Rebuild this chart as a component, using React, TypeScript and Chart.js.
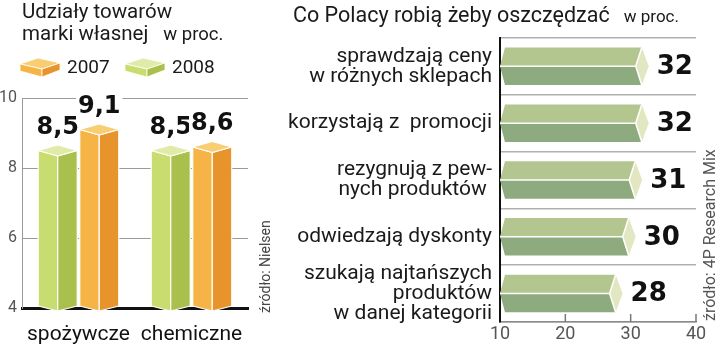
import React, { useEffect, useRef } from "react";
import { Chart, registerables } from "chart.js";
Chart.register(...registerables);

// ---------- data: left chart ----------
const leftTitleLines = ["Udziały towarów", "marki własnej"];
const leftUnit = "w proc.";
const leftCategories = ["spożywcze", "chemiczne"];
const seriesNames = ["2007", "2008"];
const values2007 = [9.1, 8.6];
const values2008 = [8.5, 8.5];
const leftTicks = [4, 6, 8, 10];
const leftSource = "źródło: Nielsen";

// ---------- data: right chart ----------
const rightTitle = "Co Polacy robią żeby oszczędzać";
const rightUnit = "w proc.";
const rightCategories: (string | string[])[] = [
  ["sprawdzają ceny", "w różnych sklepach"],
  "korzystają z  promocji",
  ["rezygnują z pew-", "nych produktów "],
  "odwiedzają dyskonty",
  ["szukają najtańszych", "produktów", "w danej kategorii"],
];
const rightValues = [32, 32, 31, 30, 28];
const rightTicks = [10, 20, 30, 40];
const rightSource = "źródło: 4P Research Mix";

// ---------- styles ----------
const ORANGE = { top: "#f9cd72", front: "#f5b445", side: "#e8942c" };
const GREEN = { top: "#dfeba6", front: "#c9dc70", side: "#a9c14c" };
const HBAR = { top: "#b4c68f", bottom: "#8dab7e", tip: "#e2e7c2" };
const FONT = "Roboto";
const BOLD = "'DejaVu Sans'";

const fmt = (v: number) => v.toFixed(1).replace(".", ",");

function LegendIcon({ c }: { c: { top: string; front: string; side: string } }) {
  return (
    <svg width={40} height={19} viewBox="0 0 40 19" style={{ display: "block" }}>
      <polygon points="0,6 18,0 40,5 22,11" fill={c.top} stroke="#fff" strokeWidth={0.8} />
      <polygon points="0,6 22,11 22,19 0,13" fill={c.front} stroke="#fff" strokeWidth={0.8} />
      <polygon points="22,11 40,5 40,12 22,19" fill={c.side} stroke="#fff" strokeWidth={0.8} />
    </svg>
  );
}

function LeftChart() {
  const ref = useRef<HTMLCanvasElement | null>(null);
  useEffect(() => {
    const colorsByDataset = [GREEN, ORANGE];
    const boxes3d = {
      id: "boxes3d",
      afterDatasetsDraw(chart: any) {
        const ctx = chart.ctx;
        const floor = chart.chartArea.bottom;
        chart.data.datasets.forEach((ds: any, i: number) => {
          const c = colorsByDataset[i];
          const meta = chart.getDatasetMeta(i);
          meta.data.forEach((el: any, j: number) => {
            const p = el.getProps(["x", "y", "base", "width"], true);
            const x = p.x, y = p.y, width = p.width;
            const base = Math.min(p.base, floor);
            const xl = x - width / 2;
            const xr = x + width / 2;
            const d = 5.5;
            ctx.save();
            ctx.strokeStyle = "#ffffff";
            ctx.lineWidth = 1.2;
            ctx.lineJoin = "round";
            const poly = (pts: number[][], fill: string) => {
              ctx.beginPath();
              pts.forEach((q, k) => (k ? ctx.lineTo(q[0], q[1]) : ctx.moveTo(q[0], q[1])));
              ctx.closePath();
              ctx.fillStyle = fill;
              ctx.fill();
              ctx.stroke();
            };
            poly([[xl, y], [x, y + d], [x, base + 3], [xl, base - 2]], c.front);
            poly([[x, y + d], [xr, y], [xr, base - 2], [x, base + 3]], c.side);
            poly([[xl, y], [x, y - d], [xr, y], [x, y + d]], c.top);
            const txt = fmt(ds.data[j]);
            ctx.font = `bold 24px ${BOLD}`;
            const w = ctx.measureText(txt).width;
            ctx.fillStyle = "#ffffff";
            ctx.fillRect(x - w / 2 - 2, y - 37, w + 4, 22);
            ctx.fillStyle = "#111111";
            ctx.textAlign = "center";
            ctx.textBaseline = "alphabetic";
            ctx.fillText(txt, x, y - 17);
            ctx.restore();
          });
        });
      },
    };
    const chart = new Chart(ref.current as HTMLCanvasElement, {
      type: "bar",
      data: {
        labels: leftCategories,
        datasets: [
          { label: seriesNames[1], data: values2008, backgroundColor: "rgba(0,0,0,0)" },
          { label: seriesNames[0], data: values2007, backgroundColor: "rgba(0,0,0,0)" },
        ],
      },
      options: {
        animation: false,
        responsive: false,
        maintainAspectRatio: false,
        layout: { padding: { top: 98, left: 0, right: 22, bottom: 0 } },
        datasets: { bar: { categoryPercentage: 0.735, barPercentage: 0.94 } } as any,
        plugins: { legend: { display: false }, tooltip: { enabled: false }, title: { display: false } },
        scales: {
          x: {
            afterFit: (s: any) => { s.height = 48; },
            grid: { display: false },
            border: { display: true, color: "#111", width: 3 },
            ticks: { font: { family: FONT, size: 21 }, color: "#111", padding: 6, autoSkip: false },
          },
          y: {
            min: leftTicks[0],
            max: leftTicks[leftTicks.length - 1],
            afterFit: (s: any) => { s.width = 22; },
            afterBuildTicks: (s: any) => { s.ticks = leftTicks.map((v) => ({ value: v })); },
            ticks: { font: { family: FONT, size: 16 }, color: "#555", padding: 5 },
            grid: {
              drawTicks: false,
              color: (c: any) => (c.tick && c.tick.value === leftTicks[0] ? "rgba(0,0,0,0)" : "#9a9a9a"),
              lineWidth: 1,
            },
            border: { display: true, color: "#9a9a9a", width: 1 },
          },
        },
      },
      plugins: [boxes3d],
    });
    return () => chart.destroy();
  }, []);
  return (
    <canvas
      ref={ref}
      width={270}
      height={356}
      style={{ position: "absolute", left: 0, top: 0, width: 270, height: 356 }}
    />
  );
}

function RightChart() {
  const ref = useRef<HTMLCanvasElement | null>(null);
  useEffect(() => {
    const arrows = {
      id: "arrows",
      afterDatasetsDraw(chart: any) {
        const ctx = chart.ctx;
        const left = chart.chartArea.left;
        const meta = chart.getDatasetMeta(0);
        meta.data.forEach((el: any, j: number) => {
          const p = el.getProps(["x", "y", "base", "height"], true);
          const x = p.x, y = p.y, height = p.height;
          const base = Math.max(p.base, left);
          const yt = y - height / 2;
          const yb = y + height / 2;
          ctx.save();
          ctx.lineJoin = "round";
          const poly = (pts: number[][], fill: string) => {
            ctx.beginPath();
            pts.forEach((q, k) => (k ? ctx.lineTo(q[0], q[1]) : ctx.moveTo(q[0], q[1])));
            ctx.closePath();
            ctx.fillStyle = fill;
            ctx.fill();
          };
          poly([[base + 5, yt], [x - 2, yt], [x - 8, y], [base, y]], HBAR.top);
          poly([[base, y], [x - 8, y], [x - 2, yb], [base + 5, yb]], HBAR.bottom);
          poly([[x - 2, yt], [x + 5, y], [x - 2, yb], [x - 8, y]], HBAR.tip);
          ctx.strokeStyle = "#ffffff";
          ctx.lineWidth = 1.5;
          ctx.beginPath();
          ctx.moveTo(base, y);
          ctx.lineTo(x - 8, y);
          ctx.moveTo(x - 2, yt);
          ctx.lineTo(x - 8, y);
          ctx.lineTo(x - 2, yb);
          ctx.stroke();
          ctx.font = `bold 26px ${BOLD}`;
          ctx.fillStyle = "#111111";
          ctx.textAlign = "left";
          ctx.textBaseline = "middle";
          ctx.fillText(String(rightValues[j]), x + 13, y + 1);
          ctx.restore();
        });
      },
      afterDraw(chart: any) {
        const ctx = chart.ctx;
        const xs = chart.scales.x;
        const bottom = chart.chartArea.bottom;
        ctx.save();
        ctx.strokeStyle = "#777";
        ctx.lineWidth = 1.5;
        xs.ticks.forEach((t: any) => {
          if (t.value === rightTicks[0]) return;
          const px = xs.getPixelForValue(t.value);
          ctx.beginPath();
          ctx.moveTo(px, bottom);
          ctx.lineTo(px, bottom - 8);
          ctx.stroke();
        });
        ctx.restore();
      },
    };
    const chart = new Chart(ref.current as HTMLCanvasElement, {
      type: "bar",
      data: {
        labels: rightCategories as any,
        datasets: [{ data: rightValues, backgroundColor: "rgba(0,0,0,0)" }],
      },
      options: {
        indexAxis: "y",
        animation: false,
        responsive: false,
        maintainAspectRatio: false,
        layout: { padding: { top: 36, left: 0, right: 24, bottom: 0 } },
        datasets: { bar: { categoryPercentage: 1, barPercentage: 0.66 } } as any,
        plugins: { legend: { display: false }, tooltip: { enabled: false }, title: { display: false } },
        scales: {
          x: {
            min: rightTicks[0],
            max: rightTicks[rightTicks.length - 1],
            afterFit: (s: any) => { s.height = 34; },
            afterBuildTicks: (s: any) => { s.ticks = rightTicks.map((v) => ({ value: v })); },
            grid: { drawOnChartArea: false, drawTicks: false },
            border: { display: true, color: "#8a8a8a", width: 1.5 },
            ticks: { font: { family: FONT, size: 18 }, color: "#555", padding: 2 },
          },
          y: {
            afterFit: (s: any) => { s.width = 230; },
            grid: { drawTicks: false, color: "#b0b0b0", lineWidth: 1.5, offset: true },
            border: { display: true, color: "#111", width: 2 },
            ticks: {
              font: { family: FONT, size: 21, lineHeight: 0.95 },
              color: "#1a1a1a",
              padding: 8,
              autoSkip: false,
            },
          },
        },
      },
      plugins: [arrows],
    });
    return () => chart.destroy();
  }, []);
  return (
    <canvas
      ref={ref}
      width={450}
      height={356}
      style={{ position: "absolute", left: 270, top: 0, width: 450, height: 356 }}
    />
  );
}

export default function App() {
  const txt: React.CSSProperties = { position: "absolute", fontFamily: FONT, color: "#1a1a1a", whiteSpace: "pre" };
  return (
    <div style={{ position: "absolute", left: 0, top: 0, width: 720, height: 356, background: "#fff", overflow: "hidden" }}>
      <LeftChart />
      <RightChart />
      <div style={{ ...txt, left: 22, top: 0, fontSize: 20.5, lineHeight: "22px" }}>
        <div>{leftTitleLines[0]}</div>
        <div>
          {leftTitleLines[1]}
          <span style={{ fontSize: 18.5, marginLeft: 15 }}>{leftUnit}</span>
        </div>
      </div>
      <div style={{ position: "absolute", left: 20, top: 58 }}>
        <LegendIcon c={ORANGE} />
      </div>
      <div style={{ ...txt, left: 67, top: 56, fontSize: 19, lineHeight: "22px" }}>{seriesNames[0]}</div>
      <div style={{ position: "absolute", left: 125, top: 58 }}>
        <LegendIcon c={GREEN} />
      </div>
      <div style={{ ...txt, left: 172, top: 56, fontSize: 19, lineHeight: "22px" }}>{seriesNames[1]}</div>
      <div
        style={{
          ...txt,
          left: 258,
          top: 313,
          fontSize: 14,
          lineHeight: "14px",
          color: "#444",
          transformOrigin: "0 0",
          transform: "rotate(-90deg)",
        }}
      >
        {leftSource}
      </div>
      <div style={{ ...txt, left: 293, top: 3, fontSize: 21.5, lineHeight: "24px" }}>
        {rightTitle}
        <span style={{ fontSize: 17, marginLeft: 14 }}>{rightUnit}</span>
      </div>
      <div
        style={{
          ...txt,
          left: 702,
          top: 321,
          fontSize: 16,
          lineHeight: "16px",
          color: "#555",
          transformOrigin: "0 0",
          transform: "rotate(-90deg)",
        }}
      >
        {rightSource}
      </div>
    </div>
  );
}
